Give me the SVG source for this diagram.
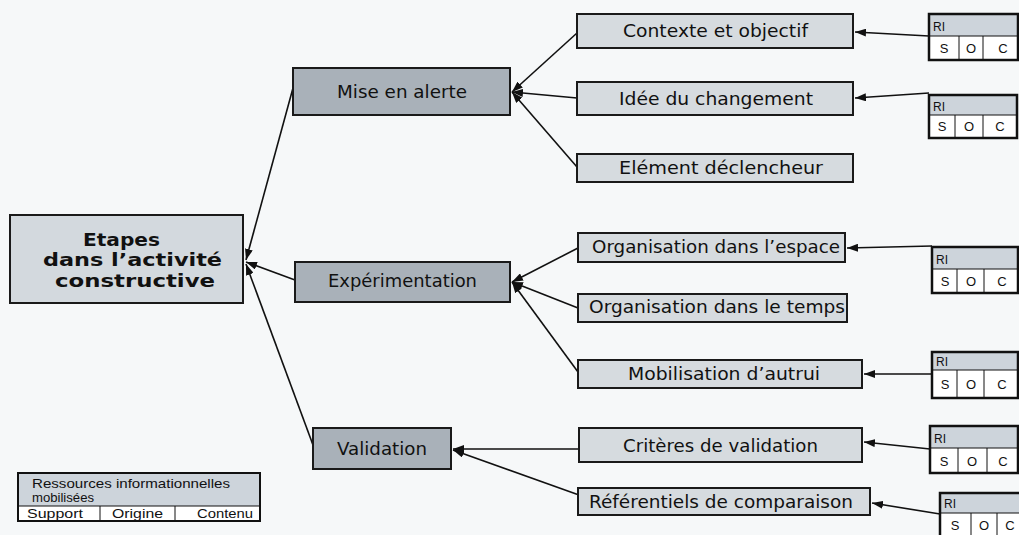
<svg xmlns="http://www.w3.org/2000/svg" width="1019" height="535" viewBox="0 0 1019 535">
  <style>
    .bg { fill: #f6f8f9; }
    .main { fill: #d3d9de; stroke: #1a1a1a; stroke-width: 2; }
    .mid { fill: #a9b1b9; stroke: #1a1a1a; stroke-width: 2; }
    .leaf { fill: #d6dbdf; stroke: #1a1a1a; stroke-width: 2; }
    .t-main { font-family: "DejaVu Sans", Verdana, sans-serif; font-weight: bold; font-size: 18px; fill: #111; }
    .t { font-family: "DejaVu Sans", Verdana, sans-serif; font-size: 17px; fill: #111; }
    .ri-top { fill: #cdd4db; }
    .ri-out { fill: none; stroke: #111; stroke-width: 2.5; }
    .ri-in { stroke: #111; stroke-width: 1; }
    .t-ri { font-family: "Liberation Sans", Arial, sans-serif; font-size: 12px; fill: #111; }
    .soc { font-family: "Liberation Sans", Arial, sans-serif; font-size: 13px; fill: #111; text-anchor: middle; }
    .conn { stroke: #111; stroke-width: 1.6; fill: none; marker-end: url(#arrow); }
  </style>
  <defs>
    <marker id="arrow" markerUnits="userSpaceOnUse" markerWidth="12" markerHeight="8" refX="11" refY="4" orient="auto">
      <path d="M0,0 L11,4 L0,8 z" fill="#111"/>
    </marker>
  </defs>

  <rect class="bg" x="0" y="0" width="1019" height="535"/>

  <g id="connectors">
    <line class="conn" x1="293" y1="88" x2="246" y2="260"/>
    <line class="conn" x1="295" y1="280" x2="246" y2="262"/>
    <line class="conn" x1="313" y1="445" x2="246" y2="264"/>

    <line class="conn" x1="577" y1="33" x2="512" y2="92"/>
    <line class="conn" x1="577" y1="98" x2="512" y2="92"/>
    <line class="conn" x1="577" y1="167" x2="512" y2="92"/>

    <line class="conn" x1="578" y1="248" x2="512" y2="282"/>
    <line class="conn" x1="578" y1="308" x2="512" y2="282"/>
    <line class="conn" x1="578" y1="372" x2="512" y2="282"/>

    <line class="conn" x1="579" y1="449" x2="453" y2="449"/>
    <line class="conn" x1="579" y1="495" x2="453" y2="450"/>

    <line class="conn" x1="929" y1="36" x2="855" y2="32"/>
    <line class="conn" x1="929" y1="93" x2="855" y2="98"/>
    <line class="conn" x1="932" y1="246" x2="847" y2="248"/>
    <line class="conn" x1="932" y1="374" x2="864" y2="374"/>
    <line class="conn" x1="930" y1="449" x2="864" y2="442"/>
    <line class="conn" x1="940" y1="514" x2="872" y2="503"/>
  </g>

  <g id="node-etapes">
    <rect class="main" x="10" y="215" width="233" height="88"/>
    <text class="t-main" x="83" y="246" textLength="77" lengthAdjust="spacingAndGlyphs">Etapes</text>
    <text class="t-main" x="43" y="266" textLength="179" lengthAdjust="spacingAndGlyphs">dans l’activité</text>
    <text class="t-main" x="55" y="287" textLength="160" lengthAdjust="spacingAndGlyphs">constructive</text>
  </g>

  <g id="node-mise-en-alerte">
    <rect class="mid" x="293" y="68" width="217" height="47"/>
    <text class="t" x="337" y="98" textLength="130" lengthAdjust="spacingAndGlyphs">Mise en alerte</text>
  </g>
  <g id="node-experimentation">
    <rect class="mid" x="295" y="262" width="215" height="40"/>
    <text class="t" x="328" y="287" textLength="149" lengthAdjust="spacingAndGlyphs">Expérimentation</text>
  </g>
  <g id="node-validation">
    <rect class="mid" x="313" y="428" width="138" height="41"/>
    <text class="t" x="337" y="455" textLength="90" lengthAdjust="spacingAndGlyphs">Validation</text>
  </g>

  <g id="node-contexte">
    <rect class="leaf" x="577" y="14" width="276" height="34"/>
    <text class="t" x="623" y="37" textLength="185" lengthAdjust="spacingAndGlyphs">Contexte et objectif</text>
  </g>
  <g id="node-idee">
    <rect class="leaf" x="577" y="82" width="276" height="33"/>
    <text class="t" x="619" y="105" textLength="194" lengthAdjust="spacingAndGlyphs">Idée du changement</text>
  </g>
  <g id="node-element">
    <rect class="leaf" x="577" y="154" width="276" height="28"/>
    <text class="t" x="619" y="174" textLength="204" lengthAdjust="spacingAndGlyphs">Elément déclencheur</text>
  </g>
  <g id="node-org-espace">
    <rect class="leaf" x="578" y="233" width="267" height="29"/>
    <text class="t" x="592" y="253" textLength="248" lengthAdjust="spacingAndGlyphs">Organisation dans l’espace</text>
  </g>
  <g id="node-org-temps">
    <rect class="leaf" x="578" y="294" width="269" height="28"/>
    <text class="t" x="589" y="313" textLength="256" lengthAdjust="spacingAndGlyphs">Organisation dans le temps</text>
  </g>
  <g id="node-mobilisation">
    <rect class="leaf" x="578" y="360" width="284" height="28"/>
    <text class="t" x="628" y="380" textLength="192" lengthAdjust="spacingAndGlyphs">Mobilisation d’autrui</text>
  </g>
  <g id="node-criteres">
    <rect class="leaf" x="579" y="428" width="283" height="34"/>
    <text class="t" x="623" y="452" textLength="195" lengthAdjust="spacingAndGlyphs">Critères de validation</text>
  </g>
  <g id="node-referentiels">
    <rect class="leaf" x="578" y="488" width="292" height="27"/>
    <text class="t" x="589" y="508" textLength="264" lengthAdjust="spacingAndGlyphs">Référentiels de comparaison</text>
  </g>

  <g id="ri-1">
    <rect class="ri-top" x="929" y="14" width="89" height="22"/>
    <rect fill="#fff" x="929" y="36" width="89" height="24"/>
    <line class="ri-in" x1="929" y1="36" x2="1018" y2="36"/>
    <line class="ri-in" x1="959" y1="36" x2="959" y2="60"/>
    <line class="ri-in" x1="983" y1="36" x2="983" y2="60"/>
    <rect class="ri-out" x="929" y="14" width="89" height="46"/>
    <text class="t-ri" x="933" y="31">RI</text>
    <text class="soc" x="944" y="53">S</text>
    <text class="soc" x="971" y="53">O</text>
    <text class="soc" x="1003" y="53">C</text>
  </g>
  <g id="ri-2">
    <rect class="ri-top" x="929" y="95" width="88" height="20"/>
    <rect fill="#fff" x="929" y="115" width="88" height="23"/>
    <line class="ri-in" x1="929" y1="115" x2="1017" y2="115"/>
    <line class="ri-in" x1="955" y1="115" x2="955" y2="138"/>
    <line class="ri-in" x1="983" y1="115" x2="983" y2="138"/>
    <rect class="ri-out" x="929" y="95" width="88" height="43"/>
    <text class="t-ri" x="933" y="111">RI</text>
    <text class="soc" x="942" y="131">S</text>
    <text class="soc" x="969" y="131">O</text>
    <text class="soc" x="1000" y="131">C</text>
  </g>
  <g id="ri-3">
    <rect class="ri-top" x="932" y="247" width="86" height="22"/>
    <rect fill="#fff" x="932" y="269" width="86" height="24"/>
    <line class="ri-in" x1="932" y1="269" x2="1018" y2="269"/>
    <line class="ri-in" x1="957" y1="269" x2="957" y2="293"/>
    <line class="ri-in" x1="984" y1="269" x2="984" y2="293"/>
    <rect class="ri-out" x="932" y="247" width="86" height="46"/>
    <text class="t-ri" x="936" y="264">RI</text>
    <text class="soc" x="945" y="286">S</text>
    <text class="soc" x="971" y="286">O</text>
    <text class="soc" x="1002" y="286">C</text>
  </g>
  <g id="ri-4">
    <rect class="ri-top" x="932" y="352" width="86" height="18"/>
    <rect fill="#fff" x="932" y="370" width="86" height="28"/>
    <line class="ri-in" x1="932" y1="370" x2="1018" y2="370"/>
    <line class="ri-in" x1="957" y1="370" x2="957" y2="398"/>
    <line class="ri-in" x1="984" y1="370" x2="984" y2="398"/>
    <rect class="ri-out" x="932" y="352" width="86" height="46"/>
    <text class="t-ri" x="936" y="366">RI</text>
    <text class="soc" x="945" y="389">S</text>
    <text class="soc" x="971" y="389">O</text>
    <text class="soc" x="1002" y="389">C</text>
  </g>
  <g id="ri-5">
    <rect class="ri-top" x="930" y="426" width="88" height="22"/>
    <rect fill="#fff" x="930" y="448" width="88" height="25"/>
    <line class="ri-in" x1="930" y1="448" x2="1018" y2="448"/>
    <line class="ri-in" x1="958" y1="448" x2="958" y2="473"/>
    <line class="ri-in" x1="987" y1="448" x2="987" y2="473"/>
    <rect class="ri-out" x="930" y="426" width="88" height="47"/>
    <text class="t-ri" x="934" y="443">RI</text>
    <text class="soc" x="944" y="466">S</text>
    <text class="soc" x="972" y="466">O</text>
    <text class="soc" x="1003" y="466">C</text>
  </g>
  <g id="ri-6">
    <rect class="ri-top" x="940" y="493" width="82" height="20"/>
    <rect fill="#fff" x="940" y="513" width="82" height="30"/>
    <line class="ri-in" x1="940" y1="513" x2="1022" y2="513"/>
    <line class="ri-in" x1="971" y1="513" x2="971" y2="540"/>
    <line class="ri-in" x1="997" y1="513" x2="997" y2="540"/>
    <rect class="ri-out" x="940" y="493" width="82" height="50"/>
    <text class="t-ri" x="944" y="508">RI</text>
    <text class="soc" x="955" y="530">S</text>
    <text class="soc" x="984" y="530">O</text>
    <text class="soc" x="1010" y="530">C</text>
  </g>

  <g id="legend">
    <rect class="ri-top" x="18" y="473" width="242" height="33"/>
    <rect fill="#fff" x="18" y="506" width="242" height="15"/>
    <line class="ri-in" x1="18" y1="506" x2="260" y2="506"/>
    <line class="ri-in" x1="100" y1="506" x2="100" y2="521"/>
    <line class="ri-in" x1="175" y1="506" x2="175" y2="521"/>
    <rect class="ri-out" x="18" y="473" width="242" height="48" style="stroke-width:2"/>
    <text class="t-ri" x="32" y="488" textLength="198" lengthAdjust="spacingAndGlyphs" style="font-size:13px">Ressources informationnelles</text>
    <text class="t-ri" x="32" y="502" textLength="62" lengthAdjust="spacingAndGlyphs" style="font-size:13px">mobilisées</text>
    <text class="t-ri" x="27" y="518" textLength="56" lengthAdjust="spacingAndGlyphs" style="font-size:13px">Support</text>
    <text class="t-ri" x="112" y="518" textLength="51" lengthAdjust="spacingAndGlyphs" style="font-size:13px">Origine</text>
    <text class="t-ri" x="197" y="518" textLength="56" lengthAdjust="spacingAndGlyphs" style="font-size:13px">Contenu</text>
  </g>
</svg>
